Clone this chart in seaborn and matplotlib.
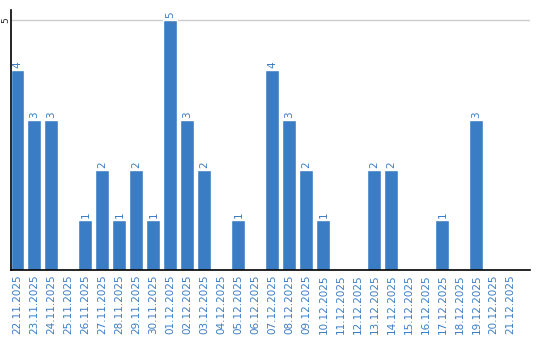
import matplotlib
matplotlib.use("Agg")
import matplotlib.pyplot as plt
import seaborn as sns
import pandas as pd

dates = ["22.11.2025", "23.11.2025", "24.11.2025", "25.11.2025", "26.11.2025",
         "27.11.2025", "28.11.2025", "29.11.2025", "30.11.2025", "01.12.2025",
         "02.12.2025", "03.12.2025", "04.12.2025", "05.12.2025", "06.12.2025",
         "07.12.2025", "08.12.2025", "09.12.2025", "10.12.2025", "11.12.2025",
         "12.12.2025", "13.12.2025", "14.12.2025", "15.12.2025", "16.12.2025",
         "17.12.2025", "18.12.2025", "19.12.2025", "20.12.2025", "21.12.2025"]
counts = [4, 3, 3, 0, 1, 2, 1, 2, 1, 5, 3, 2, 0, 1, 0, 4, 3, 2, 1, 0,
          0, 2, 2, 0, 0, 1, 0, 3, 0, 0]
y_ticks = [5]

sns.set_style("white")
plt.rcParams['font.family'] = ['DejaVu Sans']

blue = "#3b7dc4"
df = pd.DataFrame({"date": dates, "count": counts})

fig = plt.figure(figsize=(5.4, 3.4), dpi=100)
ax = fig.add_axes([10.5/540, 70/340, 519.5/540, 260/340])
sns.barplot(data=df, x="date", y="count", color=blue, saturation=1, width=0.82, ax=ax)

ax.set_ylim(0, 5.2)
ax.set_xlim(-0.41, 30.15)
ax.set_yticks(y_ticks)
ax.set_yticklabels([str(v) for v in y_ticks], rotation=90, fontsize=6.5, va="center")
ax.tick_params(axis="y", length=0, pad=0.5)
ax.tick_params(axis="x", length=0, pad=3)
ax.set_xticks(range(len(dates)))
ax.set_xticklabels(dates, rotation=90, fontsize=7.5, color=blue)
ax.grid(axis="y", color="#cccccc", linewidth=1)
ax.set_axisbelow(True)
ax.set_xlabel("")
ax.set_ylabel("")

for s in ["top", "right"]:
    ax.spines[s].set_visible(False)
for s in ["left", "bottom"]:
    ax.spines[s].set_color("black")
    ax.spines[s].set_linewidth(1.2)

for i, v in enumerate(counts):
    if v > 0:
        ax.text(i, v + 0.04, str(v), rotation=90, ha="center", va="bottom",
                fontsize=7.5, color=blue)

fig.savefig("out.png", dpi=100)
